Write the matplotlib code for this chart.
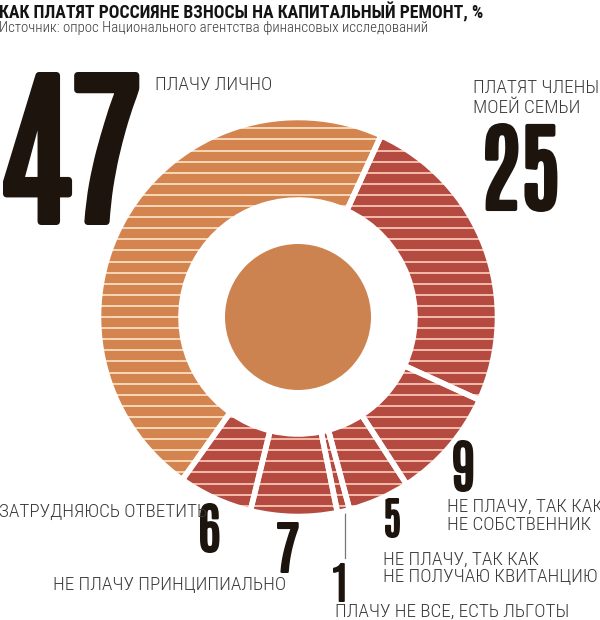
import numpy as np
import matplotlib
matplotlib.use("Agg")
import matplotlib.pyplot as plt
import matplotlib.patheffects as pe
from matplotlib.collections import LineCollection
from matplotlib.patches import Circle
from matplotlib.font_manager import FontProperties
from matplotlib.textpath import TextPath

# Shares of answers, clockwise from the top-right gap
labels = [["ПЛАТЯТ ЧЛЕНЫ", "МОЕЙ СЕМЬИ"],
          ["НЕ ПЛАЧУ, ТАК КАК", "НЕ СОБСТВЕННИК"],
          ["НЕ ПЛАЧУ, ТАК КАК", "НЕ ПОЛУЧАЮ КВИТАНЦИЮ"],
          ["ПЛАЧУ НЕ ВСЕ, ЕСТЬ ЛЬГОТЫ"],
          ["НЕ ПЛАЧУ ПРИНЦИПИАЛЬНО"],
          ["ЗАТРУДНЯЮСЬ ОТВЕТИТЬ"],
          ["ПЛАЧУ ЛИЧНО"]]
values = [25, 9, 5, 1, 7, 6, 47]

title = "КАК ПЛАТЯТ РОССИЯНЕ ВЗНОСЫ НА КАПИТАЛЬНЫЙ РЕМОНТ, %"
source = "Источник: опрос Национального агентства финансовых исследований"

ORANGE = "#d3844f"
RED = "#b44a40"
colors = [RED] * 6 + [ORANGE]
stripe_colors = ["#f4bcaa"] * 6 + ["#f8d8b8"]

NUM_FONT = ["Antonio", "Oswald", "DejaVu Sans"]
LAB_FONT = ["Roboto Condensed", "DejaVu Sans"]
DARK = "#1c140d"
GREY = "#3a3a3a"
PX = 100 / 72  # pixels per point

fig = plt.figure(figsize=(6, 6.2), dpi=100)
ax = fig.add_axes([0, 0, 1, 1])

cx, cy = 298, 317
r_out, r_in = 199.5, 117
gap = 4.0

# donut in pixel coords (y down)
wedges, _ = ax.pie(values, colors=colors, startangle=-65.4, counterclock=True,
                   radius=r_out, center=(cx, cy),
                   wedgeprops=dict(width=r_out - r_in, linewidth=0))

# horizontal stripes clipped to each wedge
ys = cy + np.arange(-20, 21) * 11.1
segs = [[(cx - r_out - 5, y), (cx + r_out + 5, y)] for y in ys]
for w, sc in zip(wedges, stripe_colors):
    lc = LineCollection(segs, colors=sc, linewidths=1.4, zorder=3)
    ax.add_collection(lc)
    lc.set_clip_path(w)

# white gaps between slices
n0 = len(ax.patches)
ax.pie(values, colors=["none"] * len(values), startangle=-65.4, counterclock=True,
       radius=r_out, center=(cx, cy),
       wedgeprops=dict(width=r_out - r_in, linewidth=gap, edgecolor="white"))
for w in ax.patches[n0:]:
    w.set_zorder(4)

ax.add_patch(Circle((cx, cy), 73, color="#cd8350", zorder=5, lw=0))

ax.set_xlim(0, 600)
ax.set_ylim(620, 0)
ax.set_aspect("equal")
ax.axis("off")


def ink(s, fp):
    # glyph extents for size 100
    return TextPath((0, 0), s, size=100, prop=fp).get_extents()


def size_for_width(s, fp, width):
    return width / (ink(s, fp).width / 100 * PX)


def put(x, base, s, fp, size, color, **kw):
    e = ink(s, fp)
    ax.text(x - e.x0 / 100 * size * PX, base, s, fontproperties=fp,
            fontsize=size, color=color, va="baseline", **kw)


# title and source, fitted to the reference widths
fp_title = FontProperties(family=LAB_FONT, weight="bold")
put(0, 18, title, fp_title, size_for_width(title, fp_title, 482), "#141414")
fp_lab = FontProperties(family=LAB_FONT, weight="light")
put(0, 32, source, fp_lab, size_for_width(source, fp_lab, 427), GREY)

# one common size for captions
lab_size = np.median([size_for_width(labels[4][0], fp_lab, 233),
                      size_for_width(labels[5][0], fp_lab, 205),
                      size_for_width(labels[2][1], fp_lab, 213),
                      size_for_width(labels[3][0], fp_lab, 236),
                      size_for_width(labels[0][0], fp_lab, 122)])

fp_num = FontProperties(family=NUM_FONT, weight="bold")


def number(v, x0, top, base):
    # heavy figures: the glyphs get a dark outline to thicken the strokes
    s = str(v)
    e = ink(s, fp_num)
    h = base - top
    thick = 0.045 * h
    size = (h - thick) / (e.height / 100 * PX)
    fx = [pe.withStroke(linewidth=thick / PX, foreground=DARK, joinstyle="round")]
    put(x0 + thick / 2, base - thick / 2 + e.y0 / 100 * size * PX, s, fp_num,
        size, DARK, path_effects=fx)


def caption(lines, x, base, step):
    for i, line in enumerate(lines):
        put(x, base + i * step, line, fp_lab, lab_size, GREY)


number(values[6], 3, 72, 225)
caption(labels[6], 157, 90, 20)
caption(labels[0], 475, 93, 20)
number(values[0], 485, 123, 212)
number(values[1], 453, 440, 492)
caption(labels[1], 449, 512, 18)
number(values[2], 385, 498, 538)
caption(labels[2], 385, 565, 17)
number(values[3], 333, 563, 602)
caption(labels[3], 337, 617, 0)
number(values[4], 277, 522, 573)
caption(labels[4], 55, 590, 0)
number(values[5], 200, 503, 553)
caption(labels[5], 0, 517, 0)

ax.plot([345, 345], [503, 558], color="#777777", lw=0.9)

fig.savefig("out.png", dpi=100)
